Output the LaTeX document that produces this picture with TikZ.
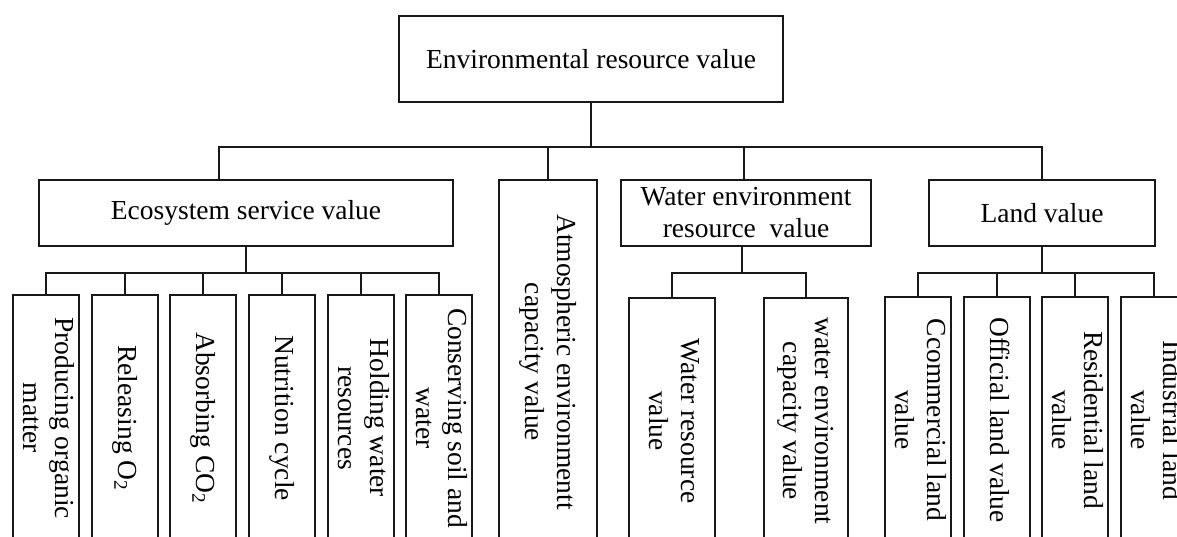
\documentclass[tikz,border=0pt]{standalone}
\usepackage{fontspec}
\setmainfont{Liberation Serif}
\newcommand{\vtxt}[1]{\rotatebox{-90}{\begin{tabular}{@{}c@{}}#1\end{tabular}}}
\tikzset{
  box/.style={draw=black!90, line width=1.7pt, inner sep=0pt, align=center,
    font=\fontsize{27.5}{32}\selectfont},
  conn/.style={draw=black!90, line width=1.7pt},
}
\begin{document}
\begin{tikzpicture}[x=1pt,y=-1pt]
\useasboundingbox (0,0) rectangle (1177,536);
\fill[white] (0,0) rectangle (1177,536);
\clip (0,0) rectangle (1177,536);
% level 0
\node[box, minimum width=384, minimum height=86] (top) at (591,59) {Environmental resource value};
% level 1
\node[box, minimum width=414, minimum height=66] (eco) at (246,213) {Ecosystem service value};
\node[box, minimum width=98, minimum height=364] (atm) at (548,362) {\vtxt{Atmospheric environmentt\\capacity value}};
\node[box, minimum width=250, minimum height=66] (wat) at (746,213) {Water environment\\resource\ \ value};
\node[box, minimum width=226, minimum height=66] (land) at (1042,213) {Land value};
% ecosystem children
\node[box, minimum width=66, minimum height=246] (e1) at (46,418) {\vtxt{Producing organic\\matter}};
\node[box, minimum width=66, minimum height=246] (e2) at (125,418) {\vtxt{Releasing O\textsubscript{2}}};
\node[box, minimum width=66, minimum height=246] (e3) at (203,418) {\vtxt{Absorbing CO\textsubscript{2}}};
\node[box, minimum width=66, minimum height=246] (e4) at (282,418) {\vtxt{Nutrition cycle}};
\node[box, minimum width=66, minimum height=246] (e5) at (361,418) {\vtxt{Holding water\\resources}};
\node[box, minimum width=66, minimum height=246] (e6) at (439,418) {\vtxt{Conserving soil and\\water}};
% water children
\node[box, minimum width=86, minimum height=246] (w1) at (672,421) {\vtxt{Water resource\\value}};
\node[box, minimum width=84, minimum height=246] (w2) at (806,421) {\vtxt{water environment\\capacity value}};
% land children
\node[box, minimum width=66, minimum height=246] (l1) at (918,420) {\vtxt{Ccommercial land\\value}};
\node[box, minimum width=66, minimum height=246] (l2) at (997,420) {\vtxt{Official land value}};
\node[box, minimum width=66, minimum height=246] (l3) at (1075,420) {\vtxt{Residential land\\value}};
\node[box, minimum width=66, minimum height=246] (l4) at (1154,420) {\vtxt{Industrial land\\value}};
% main bus
\coordinate (mb) at (591,147);
\draw[conn] (top.south) -- (mb);
\draw[conn] ([xshift=-27pt]eco.north) |- (mb -| land.north) -- (land.north);
\draw[conn] (atm.north) -- (atm.north |- mb);
\draw[conn] ([xshift=-2pt]wat.north) -- ([xshift=-2pt]wat.north |- mb);
% ecosystem bus
\coordinate (eb) at (246,273);
\draw[conn] (eco.south) -- (eb);
\draw[conn] (e1.north) |- (eb -| e6.north) -- (e6.north);
\foreach \n in {e2,e3,e4,e5} \draw[conn] (\n.north) -- (\n.north |- eb);
% water bus
\coordinate (wb) at (742,273);
\draw[conn] ([xshift=-4pt]wat.south) -- (wb);
\draw[conn] (w1.north) |- (wb -| w2.north) -- (w2.north);
% land bus
\coordinate (lb) at (1042,273);
\draw[conn] (land.south) -- (lb);
\draw[conn] (l1.north) |- (lb -| l4.north) -- (l4.north);
\foreach \n in {l2,l3} \draw[conn] (\n.north) -- (\n.north |- lb);
\end{tikzpicture}
\end{document}
